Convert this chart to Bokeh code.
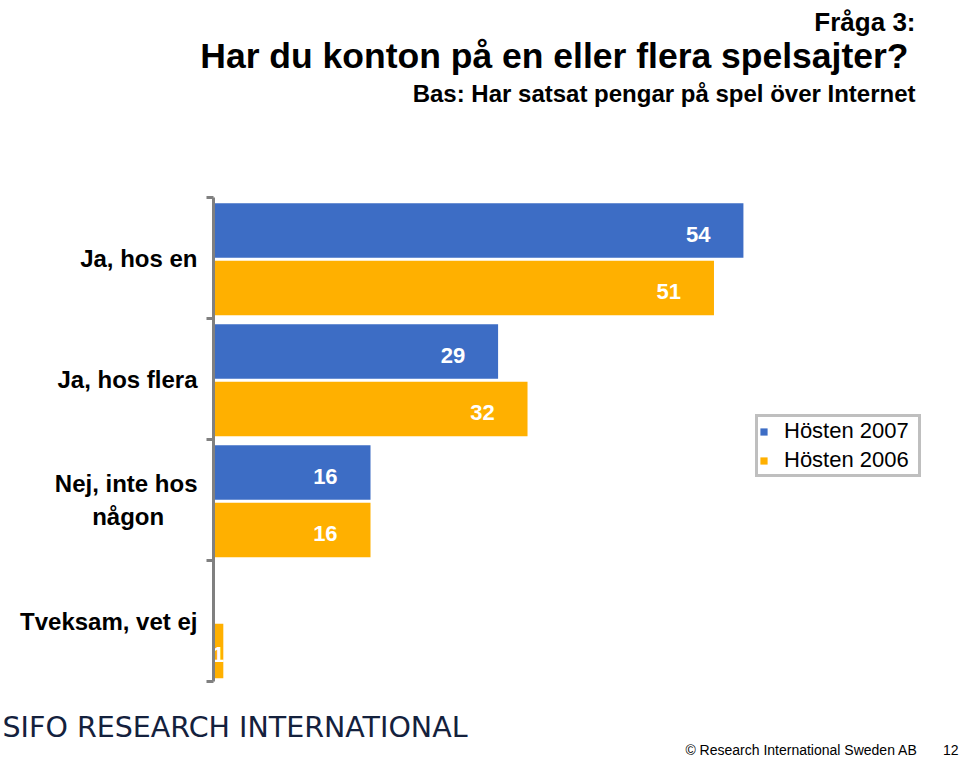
import math
from bokeh.plotting import figure
from bokeh.layouts import column
from bokeh.models import Range1d, FixedTicker, Label, ColumnDataSource
from bokeh.transform import dodge
from bokeh.core.properties import value
from bokeh.embed import file_html
from bokeh.resources import INLINE

# ---- data ----
categories = ["Ja, hos en", "Ja, hos flera", "Nej, inte hos\nnågon\u00a0\u00a0\u00a0\u00a0\u00a0", "Tveksam, vet ej"]
series_names = ["Hösten 2007", "Hösten 2006"]
values_2007 = [54, 29, 16, float("nan")]
values_2006 = [51, 32, 16, 1]
title_text = "Har du konton på en eller flera spelsajter?"
subtitle_text = "Bas: Har satsat pengar på spel över Internet"
question_text = "Fråga 3:"
brand_text = "SIFO RESEARCH INTERNATIONAL"
copyright_text = "© Research International Sweden AB"
page_text = "12"

BLUE = "#3d6dc5"
YELLOW = "#ffb000"
FONT = "Liberation Sans"
W = 960
TOP_H, MAIN_H, BOT_H = 193, 492, 72

n = len(categories)
pos = [i + 1 for i in range(n)]

def lab_x(v):
    return max(v - 4.6, v * 0.5)

src07 = ColumnDataSource(dict(
    y=[p_ for p_, v in zip(pos, values_2007) if not math.isnan(v)],
    v=[v for v in values_2007 if not math.isnan(v)],
))
src07.data["lx"] = [lab_x(v) for v in src07.data["v"]]
src07.data["lt"] = [str(int(v)) for v in src07.data["v"]]
src06 = ColumnDataSource(dict(y=pos, v=values_2006))
src06.data["lx"] = [lab_x(v) for v in values_2006]
src06.data["lt"] = [str(int(v)) for v in values_2006]


def blank_fig(h):
    f = figure(width=W, height=h, output_backend="svg", toolbar_location=None,
               x_range=Range1d(0, W), y_range=Range1d(0, h),
               x_axis_location=None, y_axis_location=None,
               min_border=0)
    f.outline_line_color = None
    f.grid.visible = False
    f.frame_align = False
    return f


def add_label(f, text, x, y, size, style="normal", align="left", color="black", font=FONT):
    f.add_layout(Label(x=x, y=y, x_units="screen", y_units="screen", text=text,
                       text_font=font, text_font_size=size, text_font_style=style,
                       text_align=align, text_baseline="alphabetic", text_color=color))


# ---- header ----
top = blank_fig(TOP_H)
add_label(top, question_text, 915, 172, "26px", "bold", "right")
add_label(top, title_text, 908, 138, "35.5px", "bold", "right")
add_label(top, subtitle_text, 915, 100, "24px", "bold", "right")

# ---- main chart ----
p = figure(width=W, height=MAIN_H, output_backend="svg", toolbar_location=None,
           x_range=Range1d(0, 75), y_range=Range1d(n + 0.5, 0.5),
           min_border_left=213, min_border_right=11, min_border_top=4,
           min_border_bottom=4)
p.outline_line_color = None
p.grid.visible = False
p.xaxis.visible = False

off07, off06, h = -0.228, 0.248, 0.45

p.hbar(y=dodge("y", off07), right="v", left=0, height=h, source=src07,
       fill_color=BLUE, line_color=None, legend_label=series_names[0])
p.hbar(y=dodge("y", off06), right="v", left=0, height=h, source=src06,
       fill_color=YELLOW, line_color=None, legend_label=series_names[1])

for src, off in ((src07, off07), (src06, off06)):
    p.text(x="lx", y=dodge("y", off + 0.03), text="lt", source=src,
           text_color="white", text_font=value(FONT), text_font_style="bold",
           text_font_size="22px", text_align="center", text_baseline="middle")

ax = p.yaxis[0]
ax.ticker = FixedTicker(ticks=pos, minor_ticks=[i + 0.5 for i in range(n + 1)])
ax.major_label_overrides = {p_: c for p_, c in zip(pos, categories)}
ax.major_tick_line_color = None
ax.major_tick_out = 0
ax.major_tick_in = 0
ax.minor_tick_line_color = "#808080"
ax.minor_tick_line_width = 3
ax.minor_tick_out = 7
ax.minor_tick_in = 0
ax.axis_line_color = "#808080"
ax.axis_line_width = 3
ax.major_label_standoff = 9
ax.major_label_text_font = FONT
ax.major_label_text_font_style = "bold"
ax.major_label_text_font_size = "24px"
ax.major_label_text_color = "black"

lg = p.legend[0]
lg.location = (542, 204)
lg.border_line_color = "#808080"
lg.border_line_width = 3
lg.glyph_width = 9
lg.glyph_height = 9
lg.label_text_font = FONT
lg.label_text_font_size = "22px"
lg.label_text_color = "black"
lg.label_standoff = 16
lg.label_width = 133
lg.padding = 1
lg.spacing = 3
lg.margin = 0
lg.background_fill_alpha = 1

# ---- footer ----
bot = blank_fig(BOT_H)
add_label(bot, brand_text, 2, 30, "28.5px", color="#14213d", font="DejaVu Sans")
add_label(bot, copyright_text, 917, 8, "14px", align="right")
add_label(bot, page_text, 958, 8, "14px", align="right")

layout = column(top, p, bot, spacing=0)
open("out.html", "w").write(file_html(layout, INLINE))
